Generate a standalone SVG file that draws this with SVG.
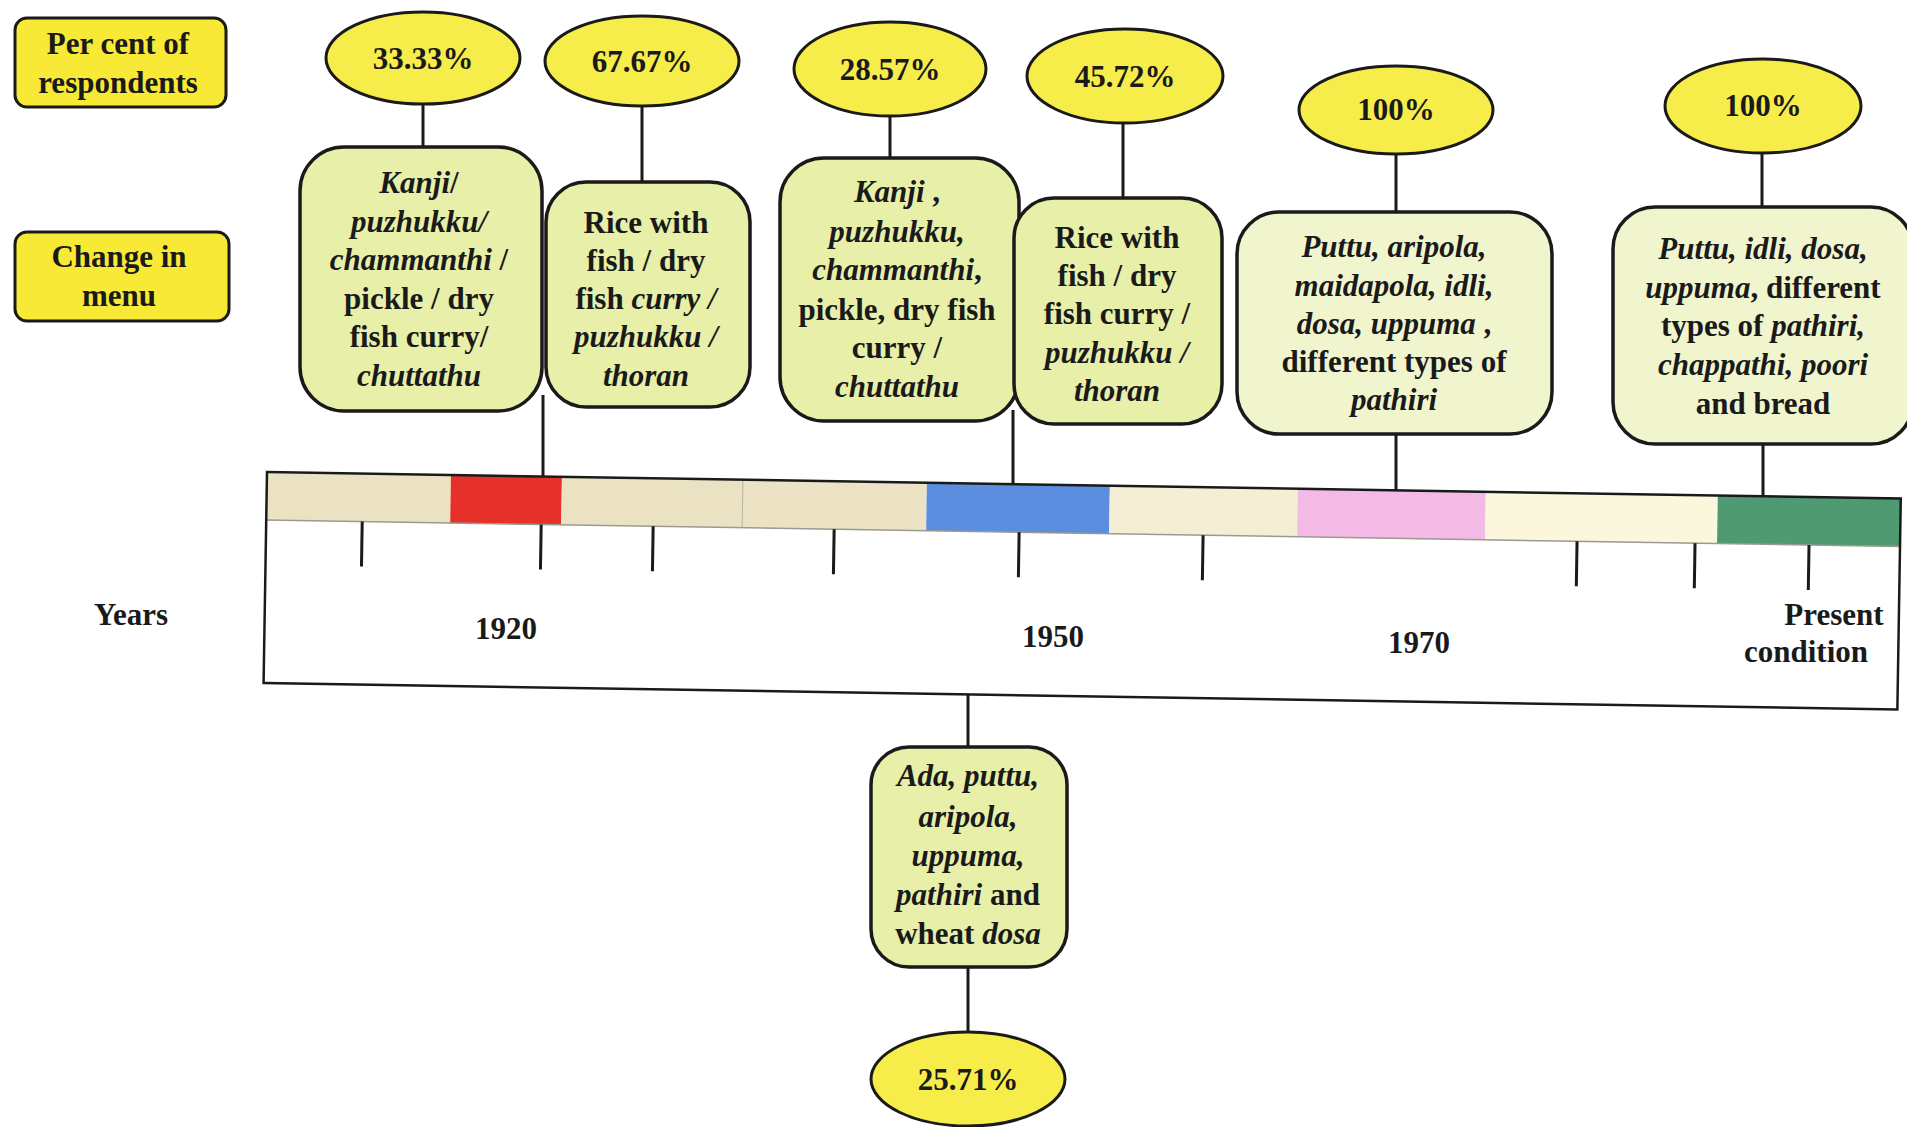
<svg xmlns="http://www.w3.org/2000/svg" width="1907" height="1127" viewBox="0 0 1907 1127">
  <style>
    text { font-family: "Liberation Serif", "Times New Roman", serif; font-weight: bold; font-size: 31px; fill: #1a1a1a; text-anchor: middle; }
    .i { font-style: italic; }
    .label { fill: #F7E935; stroke: #1a1a1a; stroke-width: 3; }
    .pct { fill: #F6EC4A; stroke: #1a1a1a; stroke-width: 3; }
    .menu { fill: #E7EFA8; stroke: #1a1a1a; stroke-width: 3.5; }
    .menu-light { fill: #F1F5CD; stroke: #1a1a1a; stroke-width: 3.5; }
    .link { stroke: #1a1a1a; stroke-width: 3; fill: none; }
    .tick { stroke: #1a1a1a; stroke-width: 3; }
  </style>
  <rect width="1907" height="1127" fill="#ffffff"/>

  <!-- row headings -->
  <g id="heading-percent">
    <rect class="label" x="15" y="18" width="211" height="89" rx="12"/>
    <text x="118" y="54">Per cent of</text>
    <text x="118" y="93">respondents</text>
  </g>
  <g id="heading-menu">
    <rect class="label" x="15" y="232" width="214" height="89" rx="12"/>
    <text x="119" y="267">Change in</text>
    <text x="119" y="306">menu</text>
  </g>

  <!-- connectors -->
  <g id="connectors">
    <line class="link" x1="423" y1="104" x2="423" y2="148"/>
    <line class="link" x1="642" y1="106" x2="642" y2="183"/>
    <line class="link" x1="890" y1="115" x2="890" y2="159"/>
    <line class="link" x1="1123" y1="122" x2="1123" y2="199"/>
    <line class="link" x1="1396" y1="153" x2="1396" y2="213"/>
    <line class="link" x1="1762" y1="150" x2="1762" y2="208"/>
    <line class="link" x1="543" y1="395" x2="543" y2="477"/>
    <line class="link" x1="1013" y1="410" x2="1013" y2="484"/>
    <line class="link" x1="1396" y1="434" x2="1396" y2="490"/>
    <line class="link" x1="1763" y1="444" x2="1763" y2="496"/>
    <line class="link" x1="968" y1="694" x2="968" y2="748"/>
    <line class="link" x1="968" y1="966" x2="968" y2="1033"/>
  </g>

  <!-- percentage ellipses -->
  <g id="pct-1"><ellipse class="pct" cx="423" cy="58" rx="97" ry="46"/><text x="423" y="69">33.33%</text></g>
  <g id="pct-2"><ellipse class="pct" cx="642" cy="61" rx="97" ry="45"/><text x="642" y="72">67.67%</text></g>
  <g id="pct-3"><ellipse class="pct" cx="890" cy="69" rx="96" ry="47"/><text x="890" y="80">28.57%</text></g>
  <g id="pct-4"><ellipse class="pct" cx="1125" cy="76" rx="98" ry="47"/><text x="1125" y="87">45.72%</text></g>
  <g id="pct-5"><ellipse class="pct" cx="1396" cy="110" rx="97" ry="44"/><text x="1396" y="120">100%</text></g>
  <g id="pct-6"><ellipse class="pct" cx="1763" cy="106" rx="98" ry="47"/><text x="1763" y="116">100%</text></g>
  <g id="pct-7"><ellipse class="pct" cx="968" cy="1079" rx="97" ry="47"/><text x="968" y="1090">25.71%</text></g>

  <!-- menu boxes -->
  <g id="menu-1">
    <rect class="menu" x="300" y="147" width="242" height="264" rx="44"/>
    <text x="419" y="193"><tspan class="i">Kanji</tspan>/</text>
    <text x="419" y="232" class="i">puzhukku/</text>
    <text x="419" y="270"><tspan class="i">chammanthi</tspan> /</text>
    <text x="419" y="309">pickle / dry</text>
    <text x="419" y="347">fish curry/</text>
    <text x="419" y="386" class="i">chuttathu</text>
  </g>
  <g id="menu-2">
    <rect class="menu" x="546" y="182" width="204" height="225" rx="40"/>
    <text x="646" y="233">Rice with</text>
    <text x="646" y="271">fish / dry</text>
    <text x="646" y="309">fish <tspan class="i">curry /</tspan></text>
    <text x="646" y="347" class="i">puzhukku /</text>
    <text x="646" y="386" class="i">thoran</text>
  </g>
  <g id="menu-3">
    <rect class="menu" x="780" y="158" width="239" height="263" rx="44"/>
    <text x="897" y="202"><tspan class="i">Kanji</tspan> ,</text>
    <text x="897" y="242" class="i">puzhukku,</text>
    <text x="897" y="280"><tspan class="i">chammanthi</tspan>,</text>
    <text x="897" y="320">pickle, dry fish</text>
    <text x="897" y="358">curry /</text>
    <text x="897" y="397" class="i">chuttathu</text>
  </g>
  <g id="menu-4">
    <rect class="menu" x="1014" y="198" width="208" height="226" rx="40"/>
    <text x="1117" y="248">Rice with</text>
    <text x="1117" y="286">fish / dry</text>
    <text x="1117" y="324">fish curry /</text>
    <text x="1117" y="363" class="i">puzhukku /</text>
    <text x="1117" y="401" class="i">thoran</text>
  </g>
  <g id="menu-5">
    <rect class="menu-light" x="1237" y="212" width="315" height="222" rx="42"/>
    <text x="1394" y="257" class="i">Puttu, aripola,</text>
    <text x="1394" y="296" class="i">maidapola, idli,</text>
    <text x="1394" y="334"><tspan class="i">dosa, uppuma</tspan> ,</text>
    <text x="1394" y="372">different types of</text>
    <text x="1394" y="410" class="i">pathiri</text>
  </g>
  <g id="menu-6">
    <rect class="menu-light" x="1613" y="207" width="300" height="237" rx="42"/>
    <text x="1763" y="259" class="i">Puttu, idli, dosa,</text>
    <text x="1763" y="298"><tspan class="i">uppuma</tspan>, different</text>
    <text x="1763" y="336">types of <tspan class="i">pathiri,</tspan></text>
    <text x="1763" y="375" class="i">chappathi, poori</text>
    <text x="1763" y="414">and bread</text>
  </g>
  <g id="menu-7">
    <rect class="menu" x="871" y="747" width="196" height="220" rx="38"/>
    <text x="968" y="786" class="i">Ada, puttu,</text>
    <text x="968" y="827" class="i">aripola,</text>
    <text x="968" y="866" class="i">uppuma,</text>
    <text x="968" y="905"><tspan class="i">pathiri</tspan> and</text>
    <text x="968" y="944">wheat <tspan class="i">dosa</tspan></text>
  </g>

  <!-- timeline: coloured period band, frame and year ticks -->
  <g id="timeline" transform="rotate(0.93 267 472)">
    <rect x="267" y="472" width="184" height="48" fill="#EAE2C2"/>
    <rect x="451" y="472" width="111" height="48" fill="#E6302A"/>
    <rect x="562" y="472" width="181" height="48" fill="#EAE2C2"/>
    <rect x="743" y="472" width="184" height="48" fill="#EBE3C4"/>
    <rect x="927" y="472" width="183" height="48" fill="#5C8EE0"/>
    <rect x="1110" y="472" width="188" height="48" fill="#F4EFD4"/>
    <rect x="1298" y="472" width="188" height="48" fill="#F2BAE4"/>
    <rect x="1486" y="472" width="232" height="48" fill="#FAF7DC"/>
    <rect x="1718" y="472" width="183" height="48" fill="#4F9A72"/>
    <line x1="743" y1="472" x2="743" y2="520" stroke="#b8b3a0" stroke-width="1"/>
    <line x1="267" y1="520" x2="1901" y2="520" stroke="#9a9a90" stroke-width="1.5"/>
    <rect x="267" y="472" width="1634" height="211" fill="none" stroke="#1a1a1a" stroke-width="2.5"/>
    <line class="tick" x1="363" y1="520" x2="363" y2="565"/>
    <line class="tick" x1="542" y1="520" x2="542" y2="565"/>
    <line class="tick" x1="654" y1="520" x2="654" y2="565"/>
    <line class="tick" x1="835" y1="520" x2="835" y2="565"/>
    <line class="tick" x1="1020" y1="520" x2="1020" y2="565"/>
    <line class="tick" x1="1204" y1="520" x2="1204" y2="565"/>
    <line class="tick" x1="1578" y1="520" x2="1578" y2="565"/>
    <line class="tick" x1="1696" y1="520" x2="1696" y2="565"/>
    <line class="tick" x1="1810" y1="520" x2="1810" y2="565"/>
  </g>

  <!-- axis labels -->
  <g id="axis-labels">
    <text x="131" y="625">Years</text>
    <text x="506" y="639">1920</text>
    <text x="1053" y="647">1950</text>
    <text x="1419" y="653">1970</text>
    <text x="1834" y="625">Present</text>
    <text x="1806" y="662">condition</text>
  </g>
</svg>
